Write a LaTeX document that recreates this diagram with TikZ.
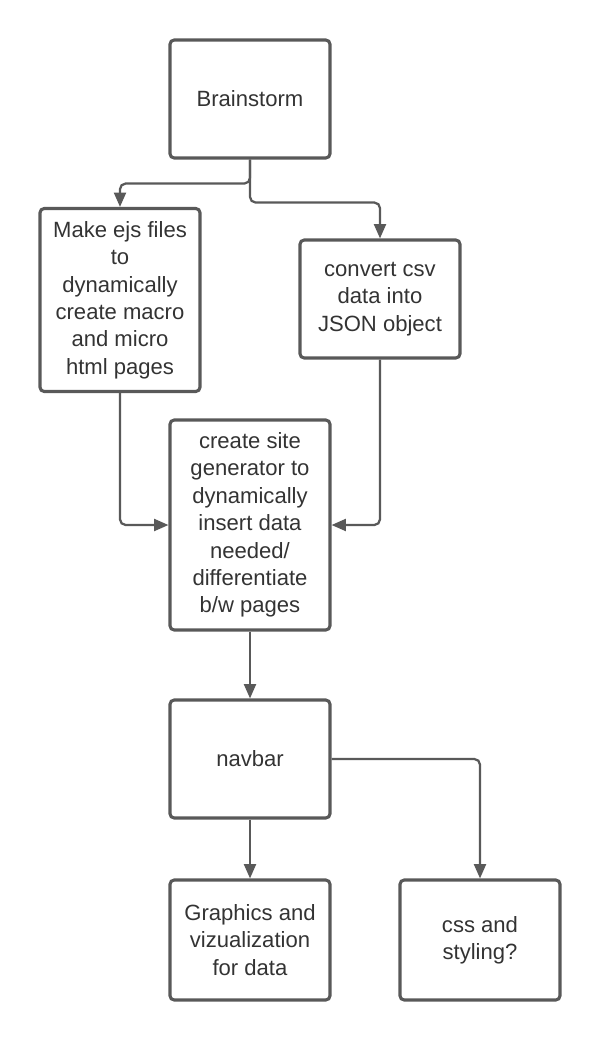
\documentclass[tikz,border=0pt]{standalone}
\usepackage{fontspec}
\setmainfont{Liberation Sans}
\usetikzlibrary{arrows.meta}
\definecolor{lineGray}{HTML}{595959}
\definecolor{textGray}{HTML}{333333}
\begin{document}
\begin{tikzpicture}
        [box/.style={rectangle, draw=lineGray, line width=2.2pt, rounded corners=3pt, minimum width=4cm, align=center, text=textGray, font=\fontsize{15.7}{19.5}\selectfont},
        link/.style={draw=lineGray, line width=1.6pt, rounded corners=4pt, -{Triangle[length=3.6mm, width=3mm]}}]
        \useasboundingbox (0,0) rectangle (15,-26);
        \node[box, minimum height=2.95cm] (brain) at (6.25,-2.475) {Brainstorm};
        \node[box, minimum height=4.575cm] (ejs) at (3,-7.5) {Make ejs files\\to\\dynamically\\create macro\\and micro\\html pages};
        \node[box, minimum height=2.95cm] (csv) at (9.5,-7.475) {convert csv\\data into\\JSON object};
        \node[box, minimum height=5.25cm] (site) at (6.25,-13.125) {create site\\generator to\\dynamically\\insert data\\needed/\\differentiate\\b/w pages};
        \node[box, minimum height=2.95cm] (nav) at (6.25,-18.975) {navbar};
        \node[box, minimum height=3cm] (gfx) at (6.25,-23.5) {Graphics and\\vizualization\\for data};
        \node[box, minimum height=3cm] (css) at (12,-23.5) {css and\\styling?};
        
        \draw[link] (brain.south) -- ++(0,-0.6) -| (ejs.north);
        \draw[link] (brain.south) -- ++(0,-1.075) -| (csv.north);
        \draw[link] (ejs.south) |- (site.west);
        \draw[link] (csv.south) |- (site.east);
        \draw[link] (site) -- (nav);
        \draw[link] (nav) -- (gfx);
        \draw[link] (nav.east) -| (css.north);
    \end{tikzpicture}
\end{document}
